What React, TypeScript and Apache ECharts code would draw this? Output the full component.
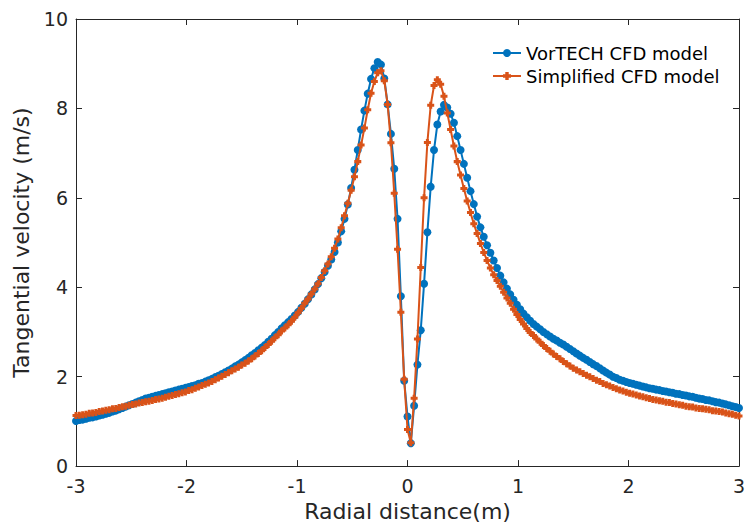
import React, { useEffect, useRef } from "react";
import * as echarts from "echarts";

// Sampling grid of the radial positions (m)
const X_START = -3;
const X_STEP = 0.03;

// Tangential velocity (m/s), VorTECH CFD model, one value per grid point
const vortech = [
  1.01, 1.03, 1.04, 1.06, 1.08, 1.09, 1.11, 1.13, 1.15, 1.17,
  1.19, 1.22, 1.24, 1.27, 1.30, 1.33, 1.36, 1.39, 1.42, 1.45,
  1.48, 1.51, 1.53, 1.55, 1.57, 1.59, 1.61, 1.63, 1.65, 1.67,
  1.69, 1.71, 1.73, 1.75, 1.77, 1.79, 1.81, 1.84, 1.86, 1.89,
  1.92, 1.95, 1.99, 2.02, 2.06, 2.10, 2.14, 2.18, 2.23, 2.27,
  2.32, 2.37, 2.42, 2.48, 2.53, 2.59, 2.65, 2.71, 2.78, 2.85,
  2.93, 3.00, 3.08, 3.15, 3.22, 3.29, 3.37, 3.45, 3.54, 3.63,
  3.73, 3.84, 3.95, 4.07, 4.20, 4.34, 4.48, 4.62, 4.79, 5.00,
  5.25, 5.53, 5.85, 6.22, 6.63, 7.07, 7.53, 7.95, 8.33, 8.66,
  8.90, 9.04, 8.98, 8.67, 8.09, 7.43, 6.65, 5.53, 3.80, 1.91,
  1.11, 0.51, 1.35, 2.27, 3.04, 4.08, 5.23, 6.25, 7.07, 7.64,
  7.93, 8.08, 8.02, 7.88, 7.68, 7.38, 7.07, 6.76, 6.45, 6.15,
  5.86, 5.58, 5.34, 5.13, 4.94, 4.77, 4.60, 4.43, 4.26, 4.11,
  3.97, 3.84, 3.72, 3.61, 3.51, 3.41, 3.33, 3.25, 3.18, 3.12,
  3.06, 3.00, 2.95, 2.90, 2.85, 2.81, 2.76, 2.72, 2.67, 2.62,
  2.57, 2.52, 2.47, 2.42, 2.38, 2.33, 2.28, 2.24, 2.19, 2.14,
  2.09, 2.05, 2.00, 1.97, 1.93, 1.91, 1.88, 1.86, 1.84, 1.82,
  1.80, 1.78, 1.76, 1.74, 1.73, 1.71, 1.70, 1.68, 1.67, 1.65,
  1.64, 1.62, 1.61, 1.59, 1.58, 1.56, 1.55, 1.53, 1.51, 1.50,
  1.48, 1.47, 1.45, 1.43, 1.42, 1.40, 1.38, 1.36, 1.34, 1.32,
  1.30,
];

// Tangential velocity (m/s), Simplified CFD model, one value per grid point
const simplified = [
  1.13, 1.14, 1.15, 1.16, 1.18, 1.19, 1.20, 1.22, 1.23, 1.25,
  1.26, 1.28, 1.29, 1.31, 1.33, 1.34, 1.36, 1.38, 1.39, 1.41,
  1.42, 1.44, 1.45, 1.47, 1.49, 1.50, 1.52, 1.54, 1.56, 1.58,
  1.60, 1.62, 1.64, 1.66, 1.69, 1.71, 1.74, 1.77, 1.80, 1.83,
  1.86, 1.89, 1.93, 1.97, 2.01, 2.05, 2.09, 2.13, 2.17, 2.21,
  2.26, 2.30, 2.35, 2.40, 2.46, 2.52, 2.58, 2.65, 2.72, 2.79,
  2.87, 2.94, 3.02, 3.09, 3.16, 3.24, 3.33, 3.43, 3.53, 3.64,
  3.74, 3.85, 3.96, 4.08, 4.22, 4.37, 4.52, 4.68, 4.87, 5.08,
  5.33, 5.60, 5.88, 6.17, 6.47, 6.81, 7.18, 7.56, 7.97, 8.34,
  8.60, 8.80, 8.84, 8.62, 8.09, 7.23, 6.10, 4.85, 3.44, 1.94,
  0.82, 0.52, 1.52, 2.84, 4.44, 6.00, 7.24, 8.07, 8.51, 8.64,
  8.54, 8.27, 7.90, 7.53, 7.16, 6.81, 6.51, 6.21, 5.93, 5.67,
  5.42, 5.20, 4.98, 4.78, 4.60, 4.43, 4.28, 4.15, 4.02, 3.89,
  3.76, 3.64, 3.51, 3.39, 3.28, 3.18, 3.08, 2.99, 2.92, 2.84,
  2.77, 2.70, 2.63, 2.57, 2.51, 2.45, 2.40, 2.34, 2.29, 2.24,
  2.19, 2.15, 2.11, 2.07, 2.03, 2.00, 1.96, 1.92, 1.89, 1.85,
  1.82, 1.79, 1.76, 1.73, 1.70, 1.68, 1.65, 1.63, 1.61, 1.59,
  1.57, 1.55, 1.53, 1.51, 1.49, 1.48, 1.46, 1.45, 1.43, 1.42,
  1.40, 1.39, 1.37, 1.36, 1.34, 1.33, 1.32, 1.30, 1.29, 1.28,
  1.27, 1.26, 1.24, 1.23, 1.22, 1.21, 1.19, 1.17, 1.16, 1.14,
  1.12,
];

const seriesNames = ["VorTECH CFD model", "Simplified CFD model"];
const xRange = { min: -3, max: 3, interval: 1 };
const yRange = { min: 0, max: 10, interval: 2 };
const xTitle = "Radial distance(m)";
const yTitle = "Tangential velocity (m/s)";

const BLUE = "#0072BD";
const ORANGE = "#D95319";
const AXIS = "#262626";
const FONT = "'DejaVu Sans', sans-serif";
const PLUS = "path://M2,0h3v2h2v3h-2v2h-3v-2h-2v-3h2z";

function toPairs(vals: number[]) {
  return vals.map((v, i) => [+(X_START + i * X_STEP).toFixed(2), v]);
}

export default function App() {
  const ref = useRef<HTMLDivElement>(null);

  useEffect(() => {
    if (!ref.current) return;
    const chart = echarts.init(ref.current, undefined, { renderer: "svg" });

    const axisCommon = {
      axisLine: { show: true, onZero: false, lineStyle: { color: AXIS, width: 1 } },
      axisTick: { show: true, inside: true, length: 6, lineStyle: { color: AXIS, width: 1 } },
      splitLine: { show: false },
    };

    chart.setOption({
      animation: false,
      backgroundColor: "#ffffff",
      grid: { left: 76, right: 12, top: 19, bottom: 55, containLabel: false },
      legend: {
        left: 487,
        top: 39,
        orient: "vertical",
        itemWidth: 28,
        itemHeight: 10,
        itemGap: 5,
        textStyle: { fontFamily: FONT, fontSize: 18, color: "#000000" },
        data: seriesNames,
      },
      xAxis: [
        {
          type: "value",
          ...xRange,
          position: "bottom",
          ...axisCommon,
          axisLabel: { show: true, margin: 10, fontFamily: FONT, fontSize: 19, color: AXIS },
          name: xTitle,
          nameLocation: "middle",
          nameGap: 25,
          nameTextStyle: { fontFamily: FONT, fontSize: 22, color: AXIS },
        },
        {
          type: "value",
          ...xRange,
          position: "top",
          ...axisCommon,
          axisLabel: { show: false },
        },
      ],
      yAxis: [
        {
          type: "value",
          ...yRange,
          position: "left",
          ...axisCommon,
          axisLabel: { show: true, margin: 8, fontFamily: FONT, fontSize: 19, color: AXIS },
          name: yTitle,
          nameLocation: "middle",
          nameGap: 38,
          nameTextStyle: { fontFamily: FONT, fontSize: 22, color: AXIS },
        },
        {
          type: "value",
          ...yRange,
          position: "right",
          ...axisCommon,
          axisLabel: { show: false },
        },
      ],
      series: [
        {
          name: seriesNames[0],
          type: "line",
          xAxisIndex: 0,
          yAxisIndex: 0,
          data: toPairs(vortech),
          symbol: "circle",
          symbolSize: 8,
          showAllSymbol: true,
          clip: false,
          lineStyle: { color: BLUE, width: 2 },
          itemStyle: { color: BLUE },
          z: 2,
        },
        {
          name: seriesNames[1],
          type: "line",
          xAxisIndex: 0,
          yAxisIndex: 0,
          data: toPairs(simplified),
          symbol: PLUS,
          symbolSize: 7,
          showAllSymbol: true,
          clip: false,
          lineStyle: { color: ORANGE, width: 2 },
          itemStyle: { color: ORANGE },
          z: 3,
        },
      ],
    });

    return () => chart.dispose();
  }, []);

  return (
    <div
      ref={ref}
      style={{ position: "absolute", left: 0, top: 0, width: 751, height: 527 }}
    />
  );
}
